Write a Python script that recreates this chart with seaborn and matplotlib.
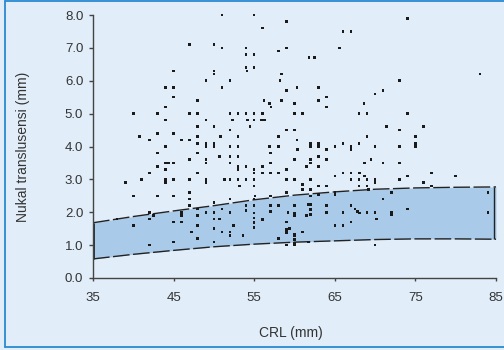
import matplotlib
matplotlib.use("Agg")
import matplotlib.pyplot as plt
import seaborn as sns
import pandas as pd
from matplotlib.lines import Line2D

# ---- data ----
band_crl = [35, 40, 45, 50, 55, 60, 65, 70, 75, 80, 85]
band_upper = [1.68, 1.87, 2.04, 2.20, 2.38, 2.52, 2.62, 2.70, 2.74, 2.76, 2.77]
band_lower = [0.58, 0.72, 0.84, 0.95, 1.03, 1.09, 1.13, 1.17, 1.19, 1.19, 1.18]

crl = [
    51, 47, 50, 51, 45, 50, 50, 49, 44, 45, 51, 45, 48, 44, 40, 43, 47, 48, 44, 49, 48, 50, 43, 45,
    55, 59, 56, 66, 67, 54, 54, 55, 58, 59, 61.8, 62.5, 65.6, 54, 54.1, 55, 52, 58.4, 58.2, 59, 60.3, 63,
    56.2, 58.4, 56.9, 57.1, 60, 63, 64, 64,
    52, 53, 54, 55, 56, 60, 61, 68,
    52.3, 54.2, 55, 55.9, 56.3, 54.5, 52, 59, 60,
    74, 83, 73, 70, 71, 68.6, 68, 69, 74, 71.4, 73, 76,
    40.8, 42, 46, 47, 48, 50.8, 48, 49, 49, 50, 50, 44, 43, 48, 47, 49, 49, 43, 44, 44.4, 45, 44, 42, 48,
    39, 41, 44, 44, 45, 47, 49, 49, 51.3, 40, 43, 45, 47, 47, 47, 50,
    42, 42, 42.5, 38, 48, 49, 50, 51, 46, 48, 50, 50.7, 45, 46, 40, 46, 50, 51, 47.2, 48, 45, 50, 42,
    48, 52, 52, 50, 50.7,
    53, 58, 60.3, 52, 53, 56.9, 58, 62, 62, 63, 63, 64, 65, 66, 67, 67, 68, 57, 60.4, 52, 53, 63, 60, 62, 62,
    64, 52, 57, 61.5, 63, 53, 53, 54, 56, 55, 55, 56, 57, 58, 59, 65, 66, 67, 68, 52, 53, 54, 55, 59, 60,
    62, 67, 68, 53.2, 55, 61, 61, 62, 63, 64, 65, 59, 57, 55.1, 52, 55, 54, 54, 55, 57, 58, 60, 62, 62,
    64, 66, 67, 67.5, 59.2, 60, 60, 61.5, 64, 52, 55, 55, 55, 55, 56, 59, 65, 66, 67, 52.4, 59.4, 59, 52,
    53.6, 61, 60, 58, 59, 60, 61.7, 59, 60, 60, 62, 62, 63, 65, 61.7, 59, 60, 57,
    75, 69, 70, 73, 75, 75, 69.5, 68.7, 71, 73, 68.1, 68.7, 69, 70, 70, 73, 74, 77, 80, 76, 77, 68, 69,
    69.2, 72, 84, 71, 67.8, 68.1, 69, 70, 72, 72, 74, 70.2, 84, 70,
]
nt = [
    8.0, 7.1, 7.1, 7.0, 6.3, 6.3, 6.2, 6.0, 5.8, 5.8, 5.8, 5.5, 5.4, 5.2, 5.0, 5.0, 5.0, 5.0, 4.8, 4.8, 4.6, 4.6, 4.4, 4.4,
    8.0, 7.8, 7.6, 7.5, 7.5, 7.0, 6.8, 6.8, 6.9, 7.0, 6.7, 6.7, 7.0, 6.4, 6.3, 6.4, 6.0, 6.2, 6.0, 5.7, 5.8, 5.8,
    5.4, 5.4, 5.3, 5.2, 5.3, 5.4, 5.5, 5.2,
    5.0, 5.0, 5.0, 5.0, 5.0, 5.0, 5.0, 5.0,
    4.8, 4.8, 4.8, 4.8, 4.8, 4.6, 4.5, 4.5, 4.5,
    7.9, 6.2, 6.0, 5.6, 5.7, 5.3, 5.0, 5.0, 5.0, 4.6, 4.5, 4.6,
    4.3, 4.2, 4.2, 4.2, 4.3, 4.3, 4.1, 4.1, 4.0, 4.1, 4.0, 4.0, 3.8, 3.8, 3.6, 3.6, 3.5, 3.4, 3.5, 3.5, 3.5, 3.3, 3.2, 3.2,
    2.9, 3.0, 3.0, 2.9, 3.0, 3.0, 3.0, 2.9, 3.0, 2.5, 2.5, 2.5, 2.6, 2.4, 2.2, 2.3,
    2.0, 1.8, 1.9, 1.8, 2.1, 2.0, 2.0, 2.1, 2.0, 1.9, 1.8, 1.8, 1.7, 1.7, 1.6, 1.9, 1.5, 1.4, 1.4, 1.2, 1.1, 1.1, 1.0,
    1.6, 1.4, 1.3, 1.5, 3.7,
    4.3, 4.3, 4.2, 4.0, 4.0, 4.0, 4.0, 4.1, 4.0, 4.1, 4.0, 3.9, 4.0, 4.1, 4.0, 3.9, 4.1, 3.8, 3.9, 3.7, 3.7, 3.7, 3.6, 3.6, 3.5,
    3.6, 3.5, 3.5, 3.4, 3.4, 3.4, 3.3, 3.4, 3.4, 3.3, 3.2, 3.2, 3.2, 3.2, 3.3, 3.1, 3.2, 3.2, 3.2, 3.0, 3.0, 3.0, 3.0, 3.0, 3.0,
    3.0, 3.0, 3.0, 2.8, 2.8, 2.85, 2.7, 2.7, 2.8, 2.8, 2.6, 2.6, 2.5, 2.5, 2.4, 2.4, 2.2, 2.06, 2.2, 2.2, 2.2, 2.2, 2.23, 2.08,
    2.2, 2.0, 2.2, 2.1, 2.0, 1.98, 1.9, 1.9, 2.0, 2.0, 1.98, 1.83, 1.68, 1.53, 1.78, 1.7, 1.6, 1.6, 1.7, 1.6, 1.5, 1.42, 1.3,
    1.3, 1.4, 1.3, 1.2, 1.0, 1.0, 1.1, 1.47, 1.17, 1.07, 2.49, 1.93, 2.54, 2.54, 2.23, 1.37, 1.32, 2.03,
    4.3, 4.3, 4.0, 4.0, 4.1, 4.0, 3.6, 3.5, 3.5, 3.5, 3.2, 3.1, 3.0, 3.0, 2.9, 3.0, 3.1, 3.2, 3.1, 2.9, 2.8, 2.8, 2.8,
    2.7, 2.6, 2.6, 2.4, 2.03, 1.98, 2.0, 2.0, 2.0, 1.93, 2.1, 1.8, 2.0, 1.0,
]

x_ticks = [35, 45, 55, 65, 75, 85]
y_ticks = [0, 1, 2, 3, 4, 5, 6, 7, 8]
x_label = "CRL (mm)"
y_label = "Nukal translusensi (mm)"

# ---- style ----
BG = "#e1edf8"
sns.set_style("white")
plt.rcParams["font.family"] = ["Liberation Sans", "DejaVu Sans"]

fig = plt.figure(figsize=(5.04, 3.5), dpi=100, facecolor=BG)
ax = fig.add_axes([93 / 504, 1 - 278 / 350, (496 - 93) / 504, (278 - 15) / 350])
ax.set_facecolor(BG)

band = pd.DataFrame({"crl": band_crl, "upper": band_upper, "lower": band_lower})
ax.fill_between(band["crl"], band["lower"], band["upper"], color="#a9cbe9", lw=0, zorder=1)
sns.lineplot(data=band, x="crl", y="upper", ax=ax, color="#222222", lw=1,
             linestyle=(0, (12, 2.5)), zorder=2)
sns.lineplot(data=band, x="crl", y="lower", ax=ax, color="#222222", lw=1,
             linestyle=(0, (12, 2.5)), zorder=2)
ax.vlines(band_crl[0], band_lower[0], band_upper[0], color="#222222", lw=2, zorder=2)
ax.vlines(band_crl[-1] - 0.2, band_lower[-1], band_upper[-1], color="#222222", lw=1, zorder=2)

pts = pd.DataFrame({"crl": crl, "nt": nt})
sns.scatterplot(data=pts, x="crl", y="nt", ax=ax, marker="s", s=3.5, color="#1a1a1a",
                edgecolor="none", linewidth=0, zorder=3, clip_on=False)

ax.set_xlim(35, 85)
ax.set_ylim(0, 8)
ax.set_xticks(x_ticks)
ax.set_xticklabels([str(t) for t in x_ticks])
ax.set_yticks(y_ticks)
ax.set_yticklabels([f"{t:.1f}" for t in y_ticks])

for s in ["top", "right"]:
    ax.spines[s].set_visible(False)
for s in ["left", "bottom"]:
    ax.spines[s].set_color("#444444")
    ax.spines[s].set_linewidth(1)

ax.tick_params(axis="y", direction="out", length=3, width=1, color="#444444",
               labelsize=9.5, labelcolor="#333333", pad=4, left=True)
ax.tick_params(axis="x", direction="out", length=2, width=1, color="#444444",
               labelsize=9.5, labelcolor="#333333", pad=8, bottom=True)

ax.set_xlabel(x_label, fontsize=10, color="#333333")
ax.set_ylabel(y_label, fontsize=10, color="#333333")
ax.xaxis.set_label_coords(0.49, -0.183)
ax.yaxis.set_label_coords(-0.156, 0.5)

# frame
fc = "#2b8ad0"
fig.add_artist(Line2D([5 / 504, 5 / 504], [3 / 350, 349 / 350], transform=fig.transFigure, color=fc, lw=1.3))
fig.add_artist(Line2D([5 / 504, 1.0], [349 / 350, 349 / 350], transform=fig.transFigure, color=fc, lw=1.3))
fig.add_artist(Line2D([5 / 504, 1.0], [3 / 350, 3 / 350], transform=fig.transFigure, color=fc, lw=1.3))

fig.savefig("out.png", dpi=100, facecolor=BG)
